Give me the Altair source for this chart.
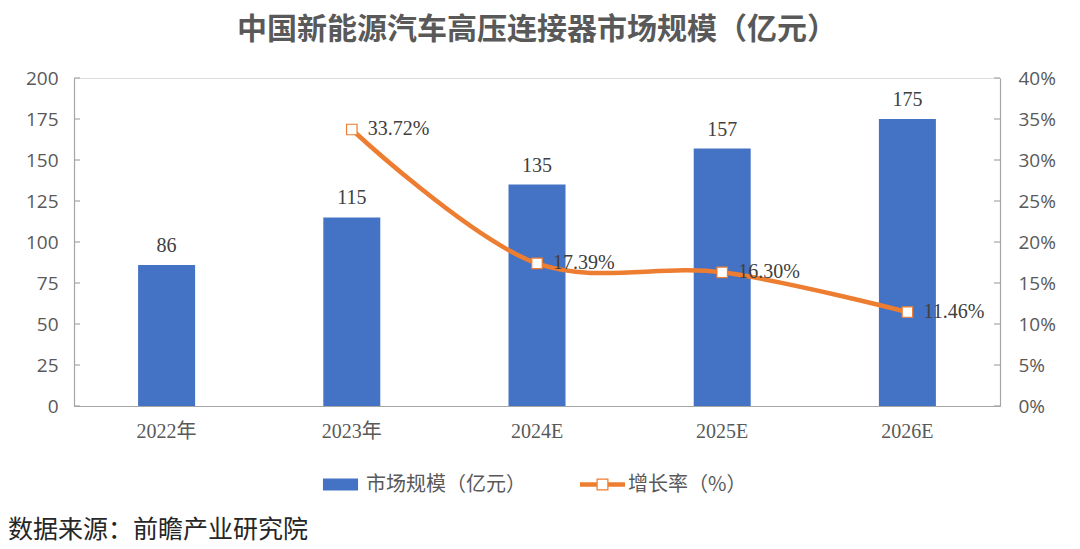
import pandas as pd
import altair as alt

years = ['2022年', '2023年', '2024E', '2025E', '2026E']
market = [86, 115, 135, 157, 175]
growth = [None, 33.72, 17.39, 16.30, 11.46]
left_ticks = [0, 25, 50, 75, 100, 125, 150, 175, 200]
right_ticks = [0, 5, 10, 15, 20, 25, 30, 35, 40]

title = '中国新能源汽车高压连接器市场规模（亿元）'
source = '数据来源：前瞻产业研究院'
bar_name = '市场规模（亿元）'
line_name = '增长率（%）'

BLUE = '#4472C4'
ORANGE = '#ED7D31'
GRAY = '#595959'
AXIS = '#A6A6A6'
W, H = 926, 328

df = pd.DataFrame({'year': years, 'market': market, 'growth': growth})
df['bar_series'] = bar_name
df['line_series'] = line_name

# legend symbols (unit box -1..1)
bar_symbol = 'M-0.78,-0.267H0.78V0.267H-0.78Z'
line_symbol = ('M-1,-0.1H-0.267V0.1H-1Z M0.267,-0.1H1V0.1H0.267Z '
               'M-0.267,-0.267H0.267V0.267H-0.267Z M-0.213,-0.213V0.213H0.213V-0.213Z')
legend_style = dict(orient='none', legendY=384, title=None, symbolSize=2025,
                    symbolStrokeWidth=0, labelFont='Noto Sans CJK SC', labelFontSize=20,
                    labelColor=GRAY, labelOffset=3)

x_enc = alt.X('year:N', sort=years, title=None,
              scale=alt.Scale(paddingInner=0.69, paddingOuter=0.345),
              axis=alt.Axis(labelAngle=0, ticks=False, labelPadding=15,
                            labelFont='Liberation Serif, Noto Sans CJK SC',
                            labelFontSize=20, labelColor=GRAY,
                            domainColor=AXIS, domainWidth=1.2))

y_left = alt.Y('market:Q', title=None,
               scale=alt.Scale(domain=[0, 200]),
               axis=alt.Axis(orient='left', values=left_ticks, ticks=False, grid=False,
                             labelPadding=16, labelFont='Open Sans', labelFontSize=19,
                             labelColor=GRAY, domainColor=AXIS, domainWidth=1.2))

base = alt.Chart(df)

bars = base.mark_bar(color=BLUE, size=57).encode(
    x=x_enc,
    y=y_left,
    color=alt.Color('bar_series:N', scale=alt.Scale(range=[BLUE]),
                    legend=alt.Legend(legendX=244, symbolType=bar_symbol, **legend_style)),
)

bar_labels = base.mark_text(baseline='bottom', dy=-9, font='Liberation Serif',
                            fontSize=20, color='#404040').encode(
    x=alt.X('year:N', sort=years),
    y='market:Q',
    text='market:Q',
)

lt_df = pd.DataFrame({'v': left_ticks})
left_tick_marks = alt.Chart(lt_df).mark_rule(color=AXIS, strokeWidth=1.2).encode(
    y='v:Q', x=alt.value(0), x2=alt.value(6))

src = alt.Chart(pd.DataFrame({'t': [source]})).mark_text(
    align='left', baseline='middle', font='Noto Sans CJK SC', fontSize=25,
    color='#262626').encode(text='t:N', x=alt.value(-66), y=alt.value(452))

left = alt.layer(bars, bar_labels, left_tick_marks, src)

y_right = alt.Y('growth:Q', title=None,
                scale=alt.Scale(domain=[0, 40]),
                axis=alt.Axis(orient='right', values=right_ticks, ticks=False, grid=False,
                              labelExpr="datum.value + '%'", labelPadding=18,
                              labelFont='Open Sans', labelFontSize=19, labelColor=GRAY,
                              domainColor=AXIS, domainWidth=1.2))

gbase = base.transform_filter('isValid(datum.growth)')

line = gbase.mark_line(interpolate='catmull-rom', strokeWidth=4.5, color=ORANGE).encode(
    x=alt.X('year:N', sort=years),
    y=y_right,
)

points = gbase.mark_point(shape='square', filled=True, fill='white', stroke=ORANGE,
                          strokeWidth=1.2, size=110, opacity=1).encode(
    x=alt.X('year:N', sort=years),
    y='growth:Q',
)

# legend-only layer for the growth line (draws no marks)
line_key = gbase.transform_filter('false').mark_bar().encode(
    x=alt.X('year:N', sort=years),
    y='growth:Q',
    fill=alt.Fill('line_series:N', scale=alt.Scale(domain=[line_name], range=[ORANGE]),
                  legend=alt.Legend(legendX=506, symbolType=line_symbol, **legend_style)),
)

line_labels = gbase.transform_calculate(
    lbl="format(datum.growth, '.2f') + '%'"
).mark_text(align='left', baseline='middle', dx=16, font='Liberation Serif',
            fontSize=20, color='#404040').encode(
    x=alt.X('year:N', sort=years),
    y='growth:Q',
    text='lbl:N',
)

rt_df = pd.DataFrame({'v': right_ticks})
right_tick_marks = alt.Chart(rt_df).mark_rule(color=AXIS, strokeWidth=1.2).encode(
    y='v:Q', x=alt.value(W - 6), x2=alt.value(W))

right = alt.layer(line, points, line_labels, right_tick_marks, line_key)

chart = alt.layer(left, right).resolve_scale(
    y='independent', color='independent', fill='independent'
).properties(
    width=W,
    height=H,
    autosize=alt.AutoSizeParams(type='none'),
    padding={'left': 66, 'top': 70, 'right': 72, 'bottom': 140},
    title=alt.TitleParams(title, font='Noto Sans CJK SC', fontSize=30, fontWeight='bold',
                          color=GRAY, anchor='middle', offset=24),
).configure_view(stroke=None).configure(background='white')

chart.save('out.html', embed_options={'renderer': 'svg', 'actions': False})
